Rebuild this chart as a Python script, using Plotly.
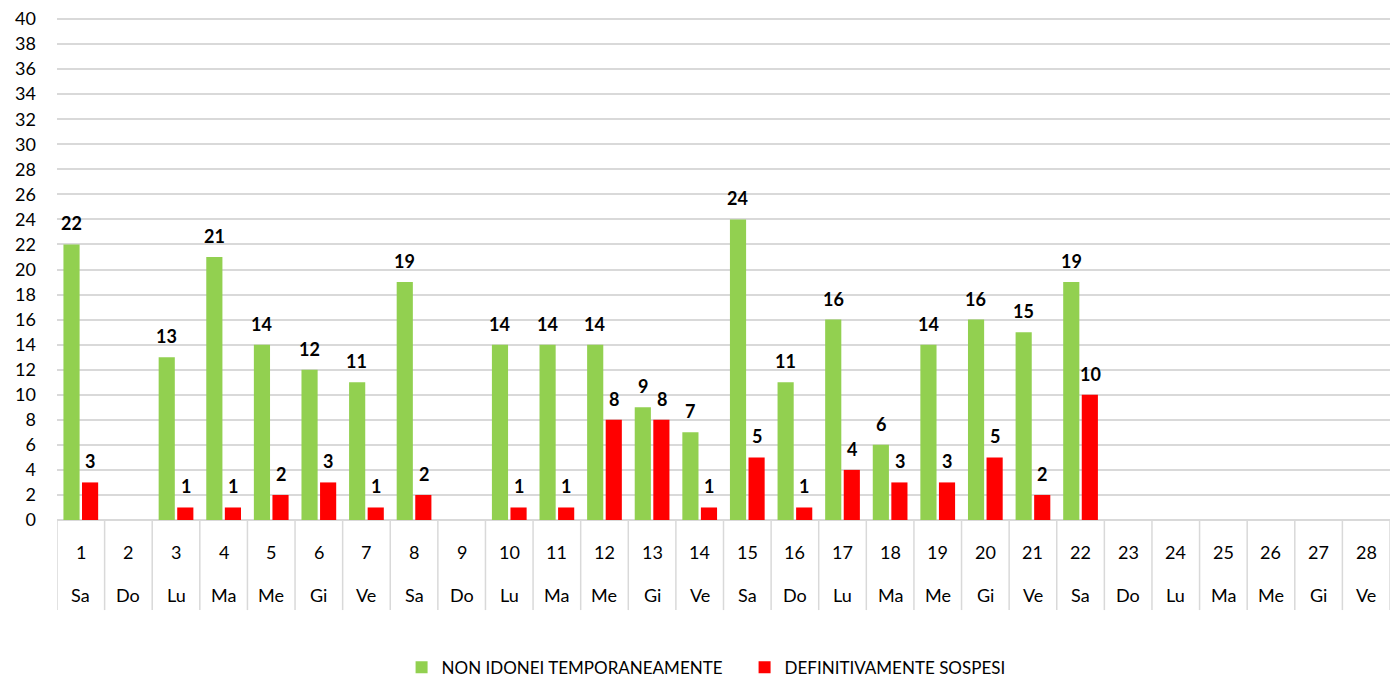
import plotly.graph_objects as go

days = [str(d) for d in range(1, 29)]
weekdays = ["Sa", "Do", "Lu", "Ma", "Me", "Gi", "Ve", "Sa", "Do", "Lu", "Ma", "Me", "Gi", "Ve",
            "Sa", "Do", "Lu", "Ma", "Me", "Gi", "Ve", "Sa", "Do", "Lu", "Ma", "Me", "Gi", "Ve"]
non_idonei = [22, None, 13, 21, 14, 12, 11, 19, None, 14, 14, 14, 9, 7,
              24, 11, 16, 6, 14, 16, 15, 19, None, None, None, None, None, None]
sospesi = [3, None, 1, 1, 2, 3, 1, 2, None, 1, 1, 8, 8, 1,
           5, 1, 4, 3, 3, 5, 2, 10, None, None, None, None, None, None]
yticks = list(range(0, 41, 2))

GREEN = "#92D050"
RED = "#FF0000"
GRID = "#D9D9D9"
FONT = "Lato, 'Open Sans', sans-serif"

fig = go.Figure()
fig.add_trace(go.Bar(x=days, y=non_idonei, name="NON IDONEI TEMPORANEAMENTE",
                     marker=dict(color=GREEN, line=dict(width=0))))
fig.add_trace(go.Bar(x=days, y=sospesi, name="DEFINITIVAMENTE SOSPESI",
                     marker=dict(color=RED, line=dict(width=0))))

annotations = []
for series, shift in ((non_idonei, -9.5), (sospesi, 9.5)):
    for i, v in enumerate(series):
        if v is None:
            continue
        annotations.append(dict(x=i, y=v, xref="x", yref="y", text=f"<b>{v}</b>",
                                showarrow=False, yanchor="bottom", xshift=shift, yshift=8,
                                font=dict(size=18, color="#000000", family=FONT)))

# two-level category labels (plot area height is 506 px)
for i, (d, w) in enumerate(zip(days, weekdays)):
    annotations.append(dict(x=i, y=-0.0633, xref="x", yref="paper", text=d, showarrow=False,
                            yanchor="middle", font=dict(size=18, color="#000000", family=FONT)))
    annotations.append(dict(x=i, y=-0.1485, xref="x", yref="paper", text=w, showarrow=False,
                            yanchor="middle", font=dict(size=18, color="#000000", family=FONT)))

shapes = []
for i in range(len(days) + 1):
    shapes.append(dict(type="line", xref="x", yref="paper", x0=i - 0.5, x1=i - 0.5,
                       y0=0, y1=-0.178, line=dict(color=GRID, width=1.5)))

fig.update_layout(
    width=1390, height=679,
    margin=dict(l=57, r=0, t=14, b=159, autoexpand=False),
    paper_bgcolor="white", plot_bgcolor="white",
    barmode="group", bargap=0.22, bargroupgap=0.13,
    font=dict(family=FONT, color="#000000"),
    xaxis=dict(type="category", range=[-0.5, len(days) - 0.5], showticklabels=False,
               showgrid=False, zeroline=False, showline=False, ticks="", automargin=False),
    yaxis=dict(range=[0, 40.4], tickvals=yticks, showgrid=True, gridcolor=GRID, gridwidth=1.5,
               zeroline=True, zerolinecolor=GRID, zerolinewidth=1.5, showline=False,
               automargin=False,
               tickfont=dict(size=18, family=FONT, color="#000000"), ticklabelstandoff=20),
    legend=dict(orientation="h", x=0.2585, xanchor="left", y=-0.292, yanchor="middle",
                font=dict(size=17, family=FONT, color="#000000"), itemwidth=30,
                entrywidth=298, entrywidthmode="pixels",
                tracegroupgap=0, traceorder="normal"),
    annotations=annotations,
    shapes=shapes,
)

fig.write_html("out.html", post_script="document.body.style.margin='0';",
               config={"displayModeBar": False})
